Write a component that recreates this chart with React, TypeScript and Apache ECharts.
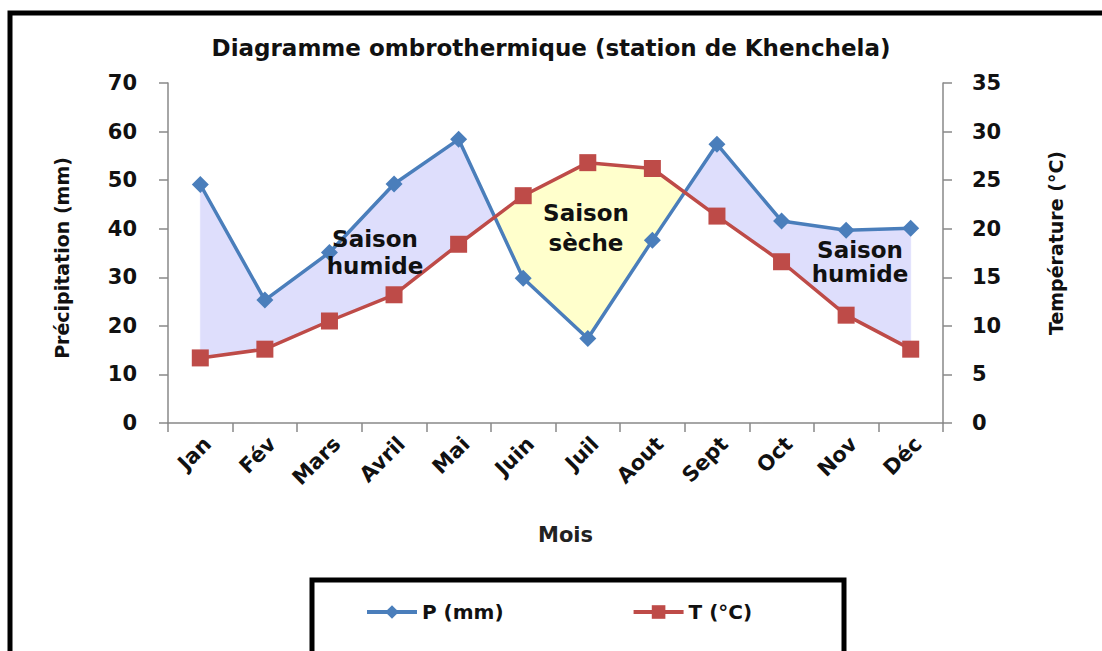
import React, { useEffect, useRef } from "react";
import * as echarts from "echarts";

const months = ["Jan", "Fév", "Mars", "Avril", "Mai", "Juin", "Juil", "Aout", "Sept", "Oct", "Nov", "Déc"];
const precip = [49.1, 25.3, 35.1, 49.2, 58.4, 29.8, 17.4, 37.6, 57.4, 41.6, 39.7, 40.1];
const temp = [6.7, 7.6, 10.5, 13.2, 18.4, 23.4, 26.8, 26.2, 21.3, 16.6, 11.1, 7.6];
const P_MAX = 70;
const T_MAX = 35;
const pTicks = 10;
const tTicks = 5;

const TITLE = "Diagramme ombrothermique (station de Khenchela)";
const P_NAME = "P (mm)";
const T_NAME = "T (°C)";

const WET = "#dedefc";
const DRY = "#ffffcc";
const BLUE = "#4a7ebb";
const RED = "#be4b48";

export default function App() {
  const ref = useRef<HTMLDivElement>(null);
  useEffect(() => {
    document.body.style.margin = "0";
    const chart = echarts.init(ref.current!, null, { renderer: "svg" });
    const font = "'DejaVu Sans', sans-serif";
    const seasonStyle = (text: string, lh: number) => ({
      text,
      align: "center",
      verticalAlign: "middle",
      fontFamily: font,
      fontWeight: "bold",
      fontSize: 23,
      lineHeight: lh,
      fill: "#111",
    });
    const option: any = {
      animation: false,
      backgroundColor: "#ffffff",
      title: {
        text: TITLE,
        left: "center",
        top: 31,
        textStyle: { fontFamily: font, fontWeight: "bold", fontSize: 23, color: "#111" },
      },
      grid: { left: 168, right: 159, top: 83, bottom: 228, containLabel: false },
      legend: {
        data: [P_NAME, T_NAME],
        left: 360,
        top: 597,
        itemWidth: 50,
        itemHeight: 17,
        itemGap: 128,
        lineStyle: { width: 4 },
        textStyle: { fontFamily: font, fontWeight: "bold", fontSize: 20, color: "#111" },
      },
      xAxis: {
        type: "category",
        data: months,
        boundaryGap: true,
        name: "Mois",
        nameLocation: "middle",
        nameGap: 101,
        nameTextStyle: { fontFamily: font, fontWeight: "bold", fontSize: 21, color: "#222", padding: [0, 0, 0, 20] },
        axisLine: { lineStyle: { color: "#888", width: 1.5 } },
        axisTick: { show: true, length: 9, alignWithLabel: false, lineStyle: { color: "#888", width: 1.5 } },
        axisLabel: {
          rotate: 45,
          margin: 10,
          verticalAlign: "top",
          fontFamily: font,
          fontWeight: "bold",
          fontSize: 21,
          color: "#111",
        },
        splitLine: { show: false },
      },
      yAxis: [
        {
          type: "value",
          min: 0,
          max: P_MAX,
          interval: pTicks,
          name: "Précipitation (mm)",
          nameLocation: "middle",
          nameGap: 97,
          nameRotate: 90,
          nameTextStyle: { fontFamily: font, fontWeight: "bold", fontSize: 19, color: "#111", padding: [0, 10, 0, 0] },
          axisLine: { show: true, lineStyle: { color: "#888", width: 1.5 } },
          axisTick: { show: true, length: 9, lineStyle: { color: "#888", width: 1.5 } },
          axisLabel: { margin: 31, fontFamily: font, fontWeight: "bold", fontSize: 21, color: "#111" },
          splitLine: { show: false },
        },
        {
          type: "value",
          min: 0,
          max: T_MAX,
          interval: tTicks,
          position: "right",
          name: "Température (°C)",
          nameLocation: "middle",
          nameGap: 103,
          nameRotate: 90,
          nameTextStyle: { fontFamily: font, fontWeight: "bold", fontSize: 19, color: "#111", padding: [0, 0, 20, 20] },
          axisLine: { show: true, lineStyle: { color: "#888", width: 1.5 } },
          axisTick: { show: true, length: 9, lineStyle: { color: "#888", width: 1.5 } },
          axisLabel: { margin: 29, fontFamily: font, fontWeight: "bold", fontSize: 21, color: "#111" },
          splitLine: { show: false },
        },
      ],
      series: [
        {
          type: "custom",
          name: "fill",
          xAxisIndex: 0,
          yAxisIndex: 0,
          silent: true,
          z: 1,
          data: [[0, 0]],
          renderItem: (params: any, api: any) => {
            if (params.dataIndex !== 0) return null;
            const ratio = P_MAX / T_MAX;
            const pp = precip.map((v, i) => api.coord([i, v]));
            const tp = temp.map((v, i) => api.coord([i, v * ratio]));
            const children: any[] = [];
            let upper: number[][] = [pp[0]];
            let lower: number[][] = [tp[0]];
            let wet = tp[0][1] - pp[0][1] > 0;
            const push = () => {
              const pts = upper.concat(lower.slice().reverse());
              children.push({
                type: "polygon",
                shape: { points: pts },
                style: { fill: wet ? WET : DRY, stroke: wet ? WET : DRY, lineWidth: 0.5 },
              });
            };
            for (let i = 0; i < pp.length - 1; i++) {
              const d0 = tp[i][1] - pp[i][1];
              const d1 = tp[i + 1][1] - pp[i + 1][1];
              if (d0 * d1 < 0) {
                const t = d0 / (d0 - d1);
                const x = pp[i][0] + t * (pp[i + 1][0] - pp[i][0]);
                const y = pp[i][1] + t * (pp[i + 1][1] - pp[i][1]);
                upper.push([x, y]);
                lower.push([x, y]);
                push();
                upper = [[x, y]];
                lower = [[x, y]];
                wet = !wet;
              }
              upper.push(pp[i + 1]);
              lower.push(tp[i + 1]);
            }
            push();
            return { type: "group", children };
          },
        },
        {
          type: "line",
          name: P_NAME,
          data: precip,
          yAxisIndex: 0,
          z: 3,
          symbol: "diamond",
          symbolSize: 17,
          color: BLUE,
          lineStyle: { color: BLUE, width: 3.5 },
          itemStyle: { color: BLUE },
        },
        {
          type: "line",
          name: T_NAME,
          data: temp,
          yAxisIndex: 1,
          z: 3,
          symbol: "rect",
          symbolSize: 17,
          color: RED,
          lineStyle: { color: RED, width: 3.5 },
          itemStyle: { color: RED },
        },
      ],
      graphic: [
        {
          type: "polyline",
          shape: { points: [[10, 651], [10, 13], [1102, 13]] },
          style: { stroke: "#000", lineWidth: 5, fill: "none" },
          silent: true,
        },
        {
          type: "rect",
          shape: { x: 312, y: 580, width: 532, height: 120 },
          style: { stroke: "#000", lineWidth: 5, fill: "none" },
          silent: true,
        },
        { type: "text", x: 375, y: 252, style: seasonStyle("Saison\nhumide", 27), z: 10 },
        { type: "text", x: 586, y: 228, style: seasonStyle("Saison\nsèche", 30), z: 10 },
        { type: "text", x: 860, y: 262, style: seasonStyle("Saison\nhumide", 24), z: 10 },
      ],
    };
    chart.setOption(option);
    return () => chart.dispose();
  }, []);
  return <div ref={ref} style={{ width: 1102, height: 651 }} />;
}
